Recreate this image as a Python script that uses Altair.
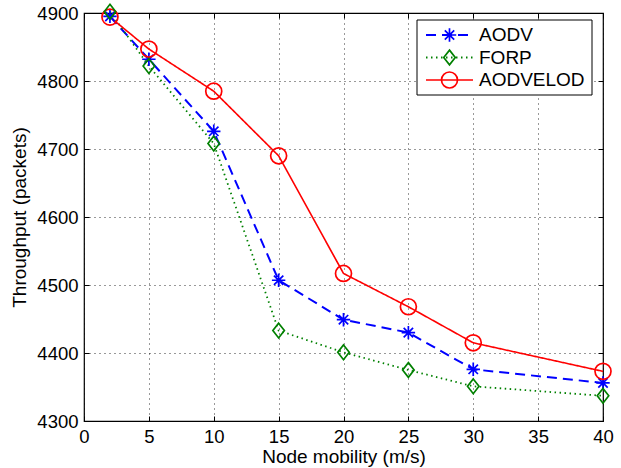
import altair as alt
import pandas as pd

speeds = [2, 5, 10, 15, 20, 25, 30, 40]
aodv = [4895, 4832, 4726, 4507, 4449, 4430, 4376, 4356]
forp = [4902, 4822, 4708, 4433, 4401, 4375, 4351, 4337]
aodvelod = [4894, 4847, 4785, 4690, 4517, 4468, 4415, 4373]
series = ["AODV", "FORP", "AODVELOD"]
x_ticks = [0, 5, 10, 15, 20, 25, 30, 35, 40]
y_ticks = [4300, 4400, 4500, 4600, 4700, 4800, 4900]

rows = []
for name, vals in zip(series, [aodv, forp, aodvelod]):
    for s, v in zip(speeds, vals):
        rows.append({"speed": s, "throughput": v, "series": name})
df = pd.DataFrame(rows)
leg_df = pd.DataFrame({"series": series})
box_df = pd.DataFrame({"k": [0]})

FONT = "Liberation Sans"
STAR = "M-1,0L1,0M0,-1L0,1M-0.7,-0.7L0.7,0.7M-0.7,0.7L0.7,-0.7"
DIAMOND = "M0,-1L0.78,0L0,1L-0.78,0Z"

color = alt.Color("series:N", scale=alt.Scale(domain=series, range=["#0000ff", "#008000", "#ff0000"]), legend=None)
dash = alt.StrokeDash("series:N", scale=alt.Scale(domain=series, range=[[10, 6], [1.5, 3.5], [1, 0]]), legend=None)
swidth = alt.StrokeWidth("series:N", scale=alt.Scale(domain=series, range=[2, 1.6, 2]), legend=None)
shape = alt.Shape("series:N", scale=alt.Scale(domain=series, range=[STAR, DIAMOND, "circle"]), legend=None)
msize = alt.Size("series:N", scale=alt.Scale(domain=series, range=[180, 256, 196]), legend=None)
order = alt.Order("series:N")

xscale = alt.Scale(domain=[0, 40], nice=False, zero=False)
yscale = alt.Scale(domain=[4300, 4900], nice=False, zero=False)

x_main = alt.X("speed:Q", scale=xscale, axis=alt.Axis(
    values=x_ticks, format="d", title="Node mobility (m/s)", grid=True, gridDash=[1, 4], gridColor="#000000",
    gridOpacity=0.8, gridWidth=1, tickSize=0, domain=False, labelFont=FONT, labelFontSize=18.5,
    labelColor="#000000", labelPadding=6, labelFlush=False, labelOverlap=False,
    titleFont=FONT, titleFontSize=19, titleFontWeight="normal", titleColor="#000000", titlePadding=2))
y_main = alt.Y("throughput:Q", scale=yscale, axis=alt.Axis(
    values=y_ticks, format="d", title="Throughput (packets)", grid=True, gridDash=[1, 4], gridColor="#000000",
    gridOpacity=0.8, gridWidth=1, tickSize=0, domain=False, labelFont=FONT, labelFontSize=18.5,
    labelColor="#000000", labelPadding=6, labelOverlap=False,
    titleFont=FONT, titleFontSize=19, titleFontWeight="normal", titleColor="#000000", titlePadding=7))

lines = alt.Chart(df).mark_line(clip=False).encode(
    x=x_main, y=y_main, color=color, strokeDash=dash, strokeWidth=swidth, detail="series:N")

points = alt.Chart(df).mark_point(filled=False, strokeWidth=1.7, opacity=1, clip=False).encode(
    x=alt.X("speed:Q", scale=xscale, axis=None),
    y=alt.Y("throughput:Q", scale=yscale, axis=None),
    color=color, shape=shape, size=msize, order=order)

def tick_axis(orient, vals):
    return alt.Axis(orient=orient, values=vals, labels=False, ticks=True, tickSize=5, offset=-5,
                    domain=False, grid=False, title=None, tickColor="#000000", tickWidth=1)

ticks_tr = alt.Chart(df).mark_point(opacity=0).encode(
    x=alt.X("speed:Q", scale=xscale, axis=tick_axis("top", x_ticks)),
    y=alt.Y("throughput:Q", scale=yscale, axis=tick_axis("right", y_ticks)))
ticks_bl = alt.Chart(df).mark_point(opacity=0).encode(
    x=alt.X("speed:Q", scale=xscale, axis=tick_axis("bottom", x_ticks)),
    y=alt.Y("throughput:Q", scale=yscale, axis=tick_axis("left", y_ticks)))

box = alt.Chart(box_df).mark_rect(fill="white", stroke="black", strokeWidth=1).encode(
    x=alt.value(333), x2=alt.value(508), y=alt.value(7), y2=alt.value(82))

ly = alt.Y("series:N", scale=alt.Scale(type="point", domain=series, range=[22, 67], padding=0), axis=None)
leg_lines = alt.Chart(leg_df).mark_rule().encode(
    x=alt.value(342), x2=alt.value(389), y=ly, color=color, strokeDash=dash, strokeWidth=swidth)
leg_points = alt.Chart(leg_df).mark_point(filled=False, strokeWidth=1.7, opacity=1).encode(
    x=alt.value(365.5), y=ly, color=color, shape=shape, size=msize)
leg_text = alt.Chart(leg_df).mark_text(align="left", baseline="middle", font=FONT, fontSize=19, color="black").encode(
    x=alt.value(395), y=ly, text="series:N")

chart = alt.layer(lines, points, ticks_tr, ticks_bl, box, leg_lines, leg_points, leg_text).resolve_scale(
    x="independent", y="independent").resolve_axis(x="independent", y="independent").properties(
    width=519, height=408, autosize=alt.AutoSizeParams(type="none"),
    padding={"left": 84, "top": 13, "right": 18, "bottom": 47}, background="white"
).configure_view(stroke="black", strokeWidth=1.2)

chart.save("out.html", embed_options={"renderer": "svg", "actions": False})
